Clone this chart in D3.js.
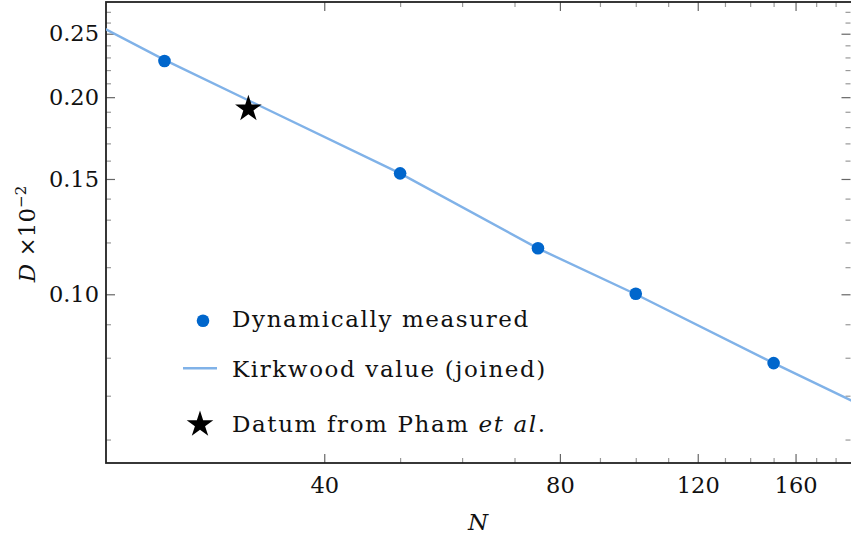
<!DOCTYPE html>
<html>
<head>
<meta charset="utf-8">
<script src="https://cdn.jsdelivr.net/npm/d3@7"></script>
<style>
  html, body { margin: 0; padding: 0; background: #fff; }
  svg { display: block; }
  text { font-family: "DejaVu Serif", serif; fill: #111; }
</style>
</head>
<body>
<svg id="chart" width="851" height="541"></svg>
<script>
// Dynamically measured diffusion coefficients
const measuredN = [25, 50, 75, 100, 150];
const measuredD = [0.2271, 0.1530, 0.1176, 0.1002, 0.0785];

// Kirkwood estimate, joined between chain lengths
const kirkwoodN = [20, 25, 50, 75, 100, 150, 200];
const kirkwoodD = [0.262, 0.228, 0.153, 0.1175, 0.1000, 0.0785, 0.0665];

// Literature datum (Pham et al.)
const phamN = [32];
const phamD = [0.193];

// Axis ranges and ticks
const xRange = [21.05, 188.9];
const yRange = [0.05525, 0.2795];
const xMajor = [40, 80, 120, 160];
const xMinor = [50, 60, 70, 90, 100, 110, 130, 140, 150, 170, 180];
const yMajor = [0.10, 0.15, 0.20, 0.25];
const yMinor = [0.06, 0.07, 0.08, 0.09, 0.11, 0.12, 0.13, 0.14, 0.16, 0.17, 0.18, 0.19,
                0.21, 0.22, 0.23, 0.24, 0.26, 0.27];

const legendItems = ["Dynamically measured", "Kirkwood value (joined)", "Datum from Pham"];

const svg = d3.select("#chart");
const box = { left: 106, right: 852, top: 2, bottom: 463 };

const x = d3.scaleLog().domain(xRange).range([box.left, box.right]);
const y = d3.scaleLog().domain(yRange).range([box.bottom, box.top]);

const blue = "#0066cc";
const lightBlue = "#80b2e8";

// clip for plotted marks
svg.append("defs").append("clipPath").attr("id", "plotClip")
  .append("rect")
  .attr("x", box.left).attr("y", box.top)
  .attr("width", box.right - box.left).attr("height", box.bottom - box.top);

// axes: major ticks labelled on bottom/left, inward ticks on all four sides
function styleAxis(g, color, labels) {
  g.select(".domain").remove();
  g.selectAll(".tick line").attr("stroke", color).attr("stroke-width", 1.2);
  if (!labels) g.selectAll(".tick text").remove();
  else g.selectAll(".tick text")
        .style("font-family", "DejaVu Serif, serif")
        .style("font-size", "22.5px").attr("fill", "#111");
}

const fmtY = d3.format(".2f");

svg.append("g").attr("transform", `translate(0,${box.bottom})`)
  .call(d3.axisBottom(x).tickValues(xMajor).tickSize(-9).tickPadding(14).tickFormat(d3.format("d")))
  .call(g => styleAxis(g, "#666", true));
svg.append("g").attr("transform", `translate(0,${box.bottom})`)
  .call(d3.axisBottom(x).tickValues(xMinor).tickSize(-5).tickFormat(""))
  .call(g => styleAxis(g, "#999", false));
svg.append("g").attr("transform", `translate(0,${box.top})`)
  .call(d3.axisTop(x).tickValues(xMajor).tickSize(-9).tickFormat(""))
  .call(g => styleAxis(g, "#666", false));
svg.append("g").attr("transform", `translate(0,${box.top})`)
  .call(d3.axisTop(x).tickValues(xMinor).tickSize(-5).tickFormat(""))
  .call(g => styleAxis(g, "#999", false));

svg.append("g").attr("transform", `translate(${box.left},0)`)
  .call(d3.axisLeft(y).tickValues(yMajor).tickSize(-9).tickPadding(7).tickFormat(fmtY))
  .call(g => styleAxis(g, "#666", true));
svg.append("g").attr("transform", `translate(${box.left},0)`)
  .call(d3.axisLeft(y).tickValues(yMinor).tickSize(-5).tickFormat(""))
  .call(g => styleAxis(g, "#999", false));
svg.append("g").attr("transform", `translate(${box.right - 1.5},0)`)
  .call(d3.axisRight(y).tickValues(yMajor).tickSize(-9).tickFormat(""))
  .call(g => styleAxis(g, "#666", false));
svg.append("g").attr("transform", `translate(${box.right - 1.5},0)`)
  .call(d3.axisRight(y).tickValues(yMinor).tickSize(-5).tickFormat(""))
  .call(g => styleAxis(g, "#999", false));

// frame
svg.append("rect")
  .attr("x", box.left).attr("y", box.top)
  .attr("width", box.right - box.left).attr("height", box.bottom - box.top)
  .attr("fill", "none").attr("stroke", "#222").attr("stroke-width", 1.8);

const plot = svg.append("g").attr("clip-path", "url(#plotClip)");

// Kirkwood line
const line = d3.line().x(d => x(d[0])).y(d => y(d[1]));
plot.append("path")
  .datum(d3.zip(kirkwoodN, kirkwoodD))
  .attr("d", line)
  .attr("fill", "none").attr("stroke", lightBlue).attr("stroke-width", 2.4);

// measured points
plot.selectAll("circle.measured")
  .data(d3.zip(measuredN, measuredD))
  .join("circle").attr("class", "measured")
  .attr("cx", d => x(d[0])).attr("cy", d => y(d[1]))
  .attr("r", 6.3).attr("fill", blue);

// Pham et al. datum
const star = d3.symbol(d3.symbolStar, 220);
plot.selectAll("path.pham")
  .data(d3.zip(phamN, phamD))
  .join("path").attr("class", "pham")
  .attr("transform", d => `translate(${x(d[0])},${y(d[1]) + 1.5})`)
  .attr("d", star).attr("fill", "#000");

// axis titles
svg.append("text")
  .attr("x", 478).attr("y", 530)
  .attr("text-anchor", "middle")
  .style("font-size", "23px").style("font-style", "italic")
  .text("N");

const yTitle = svg.append("text")
  .attr("transform", "translate(35,234) rotate(-90)")
  .attr("text-anchor", "middle")
  .style("font-size", "23px");
yTitle.append("tspan").style("font-style", "italic").text("D");
yTitle.append("tspan").text(" ×10");
yTitle.append("tspan").attr("dy", -9).style("font-size", "15px").text("−2");

// legend
const legend = svg.append("g");
const legX = 232;
const rowsY = [326.7, 376.7, 431.7];

legend.append("circle").attr("cx", 203).attr("cy", 320.7).attr("r", 6.3).attr("fill", blue);
legend.append("line")
  .attr("x1", 183).attr("x2", 217).attr("y1", 368.3).attr("y2", 368.3)
  .attr("stroke", lightBlue).attr("stroke-width", 2.4);
legend.append("path")
  .attr("transform", "translate(200,424.5)")
  .attr("d", star).attr("fill", "#000");

legendItems.forEach((label, i) => {
  const t = legend.append("text")
    .attr("x", legX).attr("y", rowsY[i])
    .style("font-size", "23px")
    .style("letter-spacing", "1.6px")
    .text(label);
  if (i === 2) {
    t.append("tspan").text(" ");
    t.append("tspan").style("font-style", "italic").text("et al");
    t.append("tspan").text(".");
  }
});
</script>
</body>
</html>
